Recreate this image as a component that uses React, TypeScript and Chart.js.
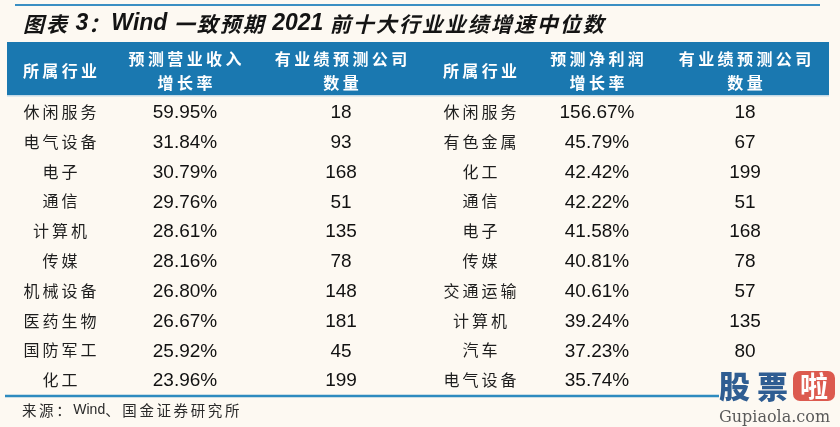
import React, { useEffect, useRef } from 'react';
import { Chart, registerables } from 'chart.js';

Chart.register(...registerables);

// ---------- data ----------
const titleText = '图表 3：Wind 一致预期 2021 前十大行业业绩增速中位数';
const sourceText = '来源：Wind、国金证券研究所';
const headerLeft: string[][] = [['所属行业'], ['预测营业收入', '增长率'], ['有业绩预测公司', '数量']];
const headerRight: string[][] = [['所属行业'], ['预测净利润', '增长率'], ['有业绩预测公司', '数量']];
const ranks = ['1', '2', '3', '4', '5', '6', '7', '8', '9', '10'];
const leftIndustries = ['休闲服务', '电气设备', '电子', '通信', '计算机', '传媒', '机械设备', '医药生物', '国防军工', '化工'];
const revenueGrowth = [59.95, 31.84, 30.79, 29.76, 28.61, 28.16, 26.8, 26.67, 25.92, 23.96];
const leftCounts: (number | null)[] = [18, 93, 168, 51, 135, 78, 148, 181, 45, 199];
const rightIndustries = ['休闲服务', '有色金属', '化工', '通信', '电子', '传媒', '交通运输', '计算机', '汽车', '电气设备'];
const profitGrowth = [156.67, 45.79, 42.42, 42.22, 41.58, 40.81, 40.61, 39.24, 37.23, 35.74];
const rightCounts: (number | null)[] = [18, 67, 199, 51, 168, 78, 57, 135, 80, null];

// ---------- layout (scale values on the x axis) ----------
const colX = [60, 185, 341, 480, 597, 745];

const BG = '#fdf9f2';
const BLUE = '#1a78b0';
const LINE = '#3a8fc3';
const CJK = '"Noto Sans CJK SC"';
const LAT = '"Liberation Sans", Arial';

const isCJK = (c: string) => /[\u2E80-\u9FFF\u3000-\u303F\uFF00-\uFFEF]/.test(c);

function drawMixed(
  ctx: CanvasRenderingContext2D,
  text: string,
  x: number,
  y: number,
  o: { cjk: string; latin: string; spacing: number; align: 'left' | 'center'; color: string }
) {
  const chars = Array.from(text);
  const widths = chars.map((c) => {
    if (isCJK(c)) {
      ctx.font = o.cjk;
      return ctx.measureText(c).width + o.spacing;
    }
    ctx.font = o.latin;
    return ctx.measureText(c).width;
  });
  let total = widths.reduce((a, b) => a + b, 0);
  if (chars.length && isCJK(chars[chars.length - 1])) total -= o.spacing;
  let cx = o.align === 'center' ? x - total / 2 : x;
  ctx.fillStyle = o.color;
  ctx.textAlign = 'left';
  ctx.textBaseline = 'middle';
  chars.forEach((c, i) => {
    ctx.font = isCJK(c) ? o.cjk : o.latin;
    ctx.fillText(c, cx, y);
    cx += widths[i];
  });
}

const tablePlugin = {
  id: 'tablePlugin',
  beforeDraw(chart: any) {
    const ctx: CanvasRenderingContext2D = chart.ctx;
    ctx.save();
    ctx.fillStyle = BG;
    ctx.fillRect(0, 0, chart.width, chart.height);
    ctx.restore();
  },
  afterDraw(chart: any) {
    const ctx: CanvasRenderingContext2D = chart.ctx;
    const xs = chart.scales.x;
    const ys = chart.scales.y;
    const area = chart.chartArea;
    ctx.save();

    // top rule
    ctx.strokeStyle = LINE;
    ctx.lineWidth = 2;
    ctx.beginPath();
    ctx.moveTo(xs.getPixelForValue(15), 5);
    ctx.lineTo(xs.getPixelForValue(820), 5);
    ctx.stroke();

    // title
    drawMixed(ctx, titleText, xs.getPixelForValue(23), 24, {
      cjk: `italic bold 21px ${CJK}`,
      latin: `italic bold 23px ${LAT}`,
      spacing: 2,
      align: 'left',
      color: '#141414',
    });

    // header band
    const hTop = area.top - 55;
    const hBot = area.top - 2;
    ctx.fillStyle = BLUE;
    ctx.fillRect(xs.getPixelForValue(7), hTop, xs.getPixelForValue(829) - xs.getPixelForValue(7), hBot - hTop);
    ctx.fillStyle = '#c4d9e6';
    ctx.fillRect(xs.getPixelForValue(7), hBot, xs.getPixelForValue(829) - xs.getPixelForValue(7), 1.5);

    const headers = [...headerLeft, ...headerRight];
    headers.forEach((lines, i) => {
      const cx = xs.getPixelForValue(colX[i]);
      const ys2 = lines.length === 1 ? [hTop + 29] : [hTop + 17, hTop + 41];
      lines.forEach((t, j) => {
        drawMixed(ctx, t, cx, ys2[j], {
          cjk: `bold 16px ${CJK}`,
          latin: `bold 16px ${LAT}`,
          spacing: 3.4,
          align: 'center',
          color: '#ffffff',
        });
      });
    });

    // body cells
    const nameOpt = { cjk: `16px ${CJK}`, latin: `16px ${LAT}`, spacing: 3, align: 'center' as const, color: '#1e1e1e' };
    ranks.forEach((_, r) => {
      const y = ys.getPixelForValue(r);
      drawMixed(ctx, leftIndustries[r], xs.getPixelForValue(colX[0]), y, nameOpt);
      drawMixed(ctx, rightIndustries[r], xs.getPixelForValue(colX[3]), y, nameOpt);
      ctx.font = `19px ${LAT}`;
      ctx.fillStyle = '#111111';
      ctx.textAlign = 'center';
      ctx.textBaseline = 'middle';
      ctx.fillText(revenueGrowth[r].toFixed(2) + '%', xs.getPixelForValue(colX[1]), y + 1);
      ctx.fillText(profitGrowth[r].toFixed(2) + '%', xs.getPixelForValue(colX[4]), y + 1);
      if (leftCounts[r] !== null) ctx.fillText(String(leftCounts[r]), xs.getPixelForValue(colX[2]), y + 1);
      if (rightCounts[r] !== null) ctx.fillText(String(rightCounts[r]), xs.getPixelForValue(colX[5]), y + 1);
    });

    // bottom rule
    const bY = area.bottom + 1;
    ctx.strokeStyle = '#2e8bbf';
    ctx.lineWidth = 2.5;
    ctx.beginPath();
    ctx.moveTo(xs.getPixelForValue(5), bY);
    ctx.lineTo(xs.getPixelForValue(719), bY);
    ctx.stroke();

    // source
    drawMixed(ctx, sourceText, xs.getPixelForValue(22), 410, {
      cjk: `14.5px ${CJK}`,
      latin: `14px ${LAT}`,
      spacing: 2.6,
      align: 'left',
      color: '#2a2a2a',
    });

    // watermark
    ctx.textBaseline = 'middle';
    ctx.textAlign = 'left';
    ctx.font = `900 31px ${CJK}`;
    ctx.fillStyle = '#2f5d92';
    ctx.fillText('股', 719, 386);
    ctx.fillText('票', 757, 386);
    ctx.fillStyle = '#dc5a4f';
    ctx.beginPath();
    (ctx as any).roundRect(793, 371, 42, 30, 7);
    ctx.fill();
    ctx.fillStyle = '#ffffff';
    ctx.font = `bold 28px ${CJK}`;
    ctx.fillText('啦', 800, 386);
    ctx.font = '16px "DejaVu Serif"';
    ctx.fillStyle = '#5a5a5a';
    ctx.fillText('Gupiaola.com', 719, 418);

    ctx.restore();
  },
};

export default function App() {
  const ref = useRef<HTMLCanvasElement>(null);
  useEffect(() => {
    document.body.style.margin = '0';
    document.body.style.background = BG;
    const chart = new Chart(ref.current as HTMLCanvasElement, {
      type: 'scatter',
      data: { datasets: [] },
      options: {
        responsive: false,
        animation: false,
        devicePixelRatio: 1,
        events: [],
        layout: { padding: { top: 97, bottom: 32, left: 0, right: 0 } },
        plugins: { legend: { display: false }, tooltip: { enabled: false } },
        scales: {
          x: { type: 'linear', min: 0, max: 840, display: false },
          y: { type: 'category', labels: ranks, offset: true, display: false },
        },
      } as any,
      plugins: [tablePlugin],
    });
    return () => chart.destroy();
  }, []);
  return (
    <div style={{ position: 'fixed', left: 0, top: 0, width: 840, height: 427, background: BG }}>
      <canvas ref={ref} width={840} height={427} style={{ display: 'block', width: 840, height: 427 }} />
    </div>
  );
}
